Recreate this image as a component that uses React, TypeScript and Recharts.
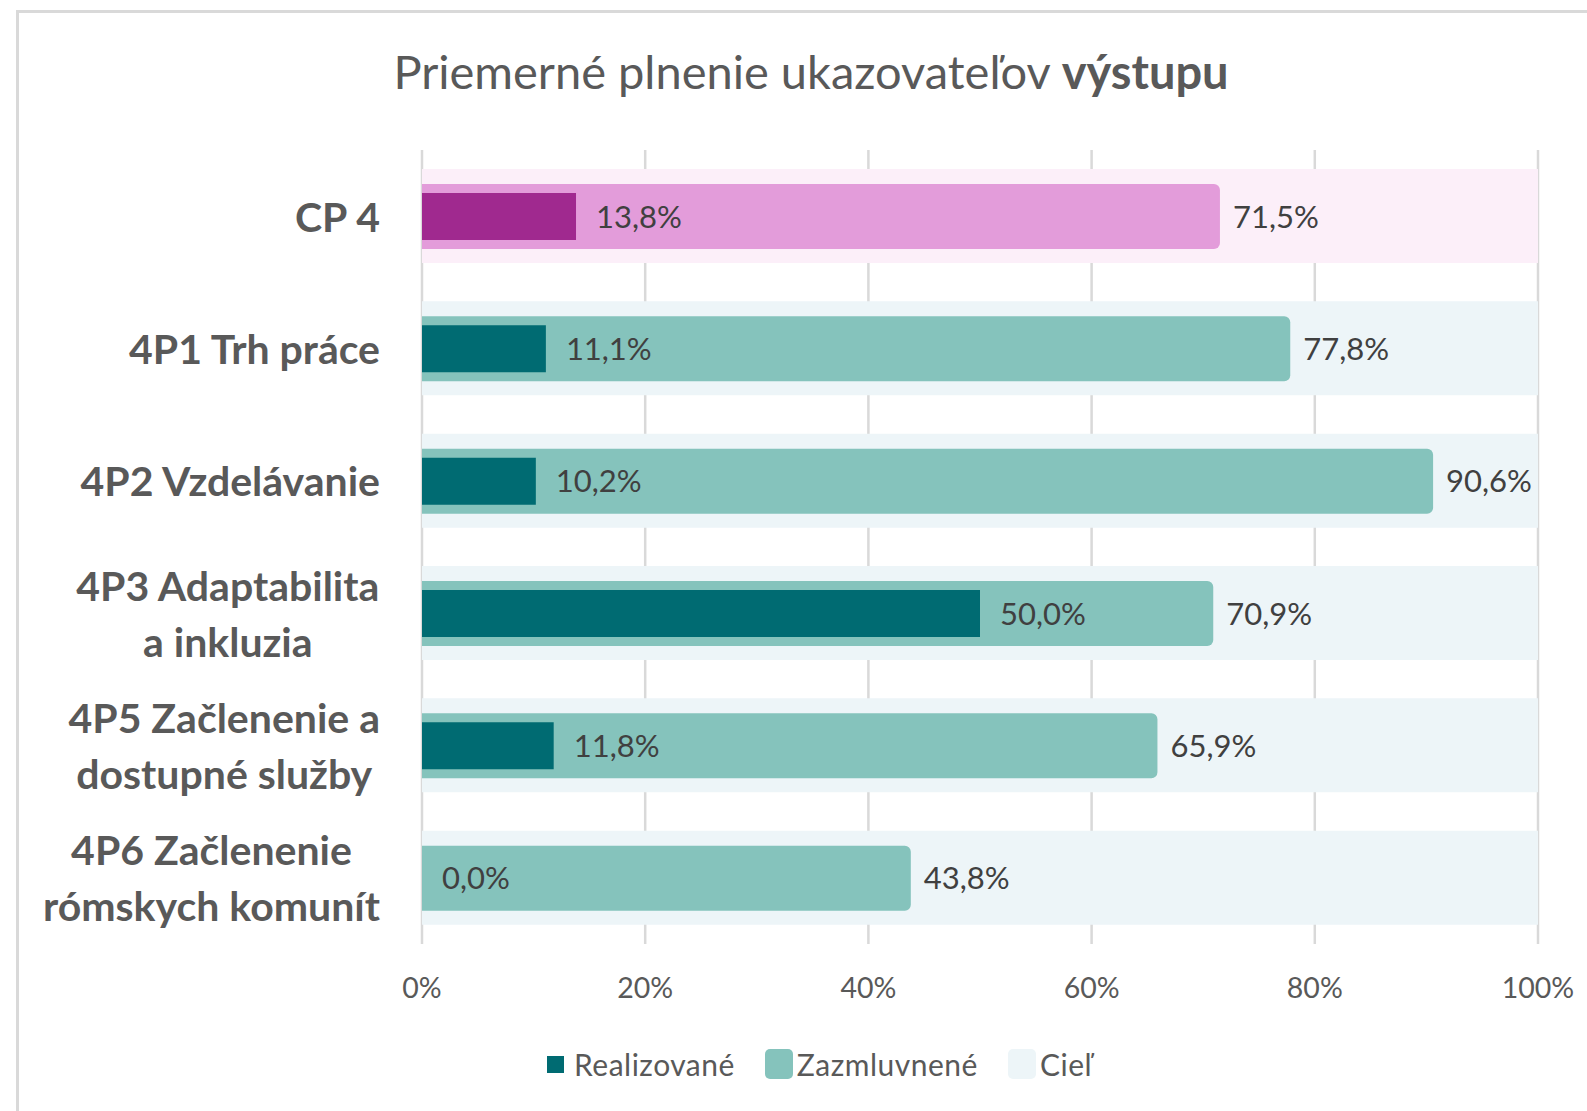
import { BarChart, Bar, XAxis, YAxis, CartesianGrid, Cell, LabelList } from 'recharts';

const categories = [
    'CP 4',
    '4P1 Trh práce',
    '4P2 Vzdelávanie',
    '4P3 Adaptabilita\na inkluzia',
    '4P5 Začlenenie a\ndostupné služby',
    '4P6 Začlenenie\nrómskych komunít',
];
const realizovane = [13.8, 11.1, 10.2, 50.0, 11.8, 0.0];
const zazmluvnene = [71.5, 77.8, 90.6, 70.9, 65.9, 43.8];
const ciel = [100, 100, 100, 100, 100, 100];
const xTicks = [0, 20, 40, 60, 80, 100];
const highlighted = 'CP 4';

const data = categories.map((name, i) => ({
    name,
    realizovane: realizovane[i],
    zazmluvnene: zazmluvnene[i],
    ciel: ciel[i],
}));

const FONT = 'Lato, "Noto Sans", sans-serif';
const GRAY = '#595959';
const LABEL = '#404040';

const teal = { dark: '#006B72', mid: '#85C3BC', light: '#EDF5F8' };
const pink = { dark: '#A0298F', mid: '#E39CDA', light: '#FCEFF9' };

const pick = (name: string) => (name === highlighted ? pink : teal);

const fmt = (v: any) => `${Number(v).toFixed(1).replace('.', ',')}%`;

let ctx: CanvasRenderingContext2D | null = null;
function textWidth(s: string, font: string) {
    if (!ctx && typeof document !== 'undefined') ctx = document.createElement('canvas').getContext('2d');
    if (!ctx) return s.length * 20;
    ctx.font = font;
    return ctx.measureText(s).width;
}

// y-axis labels: block right-aligned to the axis, lines centred inside the block
function CategoryTick(props: any) {
    const { x, y, payload } = props;
    const lines = String(payload.value).split('\n');
    const size = 41;
    const lh = 56;
    const font = `bold ${size}px Lato`;
    const maxW = Math.max(...lines.map((l) => textWidth(l, font)));
    const cx = x - maxW / 2;
    const y0 = y - ((lines.length - 1) * lh) / 2;
    return (
        <g>
            {lines.map((l, i) => (
                <text
                    key={i}
                    x={lines.length > 1 ? cx : x}
                    y={y0 + i * lh}
                    textAnchor={lines.length > 1 ? 'middle' : 'end'}
                    dominantBaseline="central"
                    fill={GRAY}
                    fontFamily={FONT}
                    fontWeight={700}
                    fontSize={size}
                >
                    {l}
                </text>
            ))}
        </g>
    );
}

function PercentTick(props: any) {
    const { x, y, payload } = props;
    return (
        <text x={x} y={y} dy={35} textAnchor="middle" dominantBaseline="central" fill={GRAY} fontFamily={FONT} fontSize={28.5}>
            {`${payload.value}%`}
        </text>
    );
}

function Legend() {
    const item = (marker: any, label: string, last = false) => (
        <div style={{ display: 'flex', alignItems: 'center', marginRight: last ? 0 : 30 }}>
            {marker}
            <span style={{ marginLeft: 4, letterSpacing: 0.5 }}>{label}</span>
        </div>
    );
    return (
        <div
            style={{
                position: 'absolute',
                left: 547,
                top: 1046,
                height: 36,
                display: 'flex',
                alignItems: 'center',
                fontFamily: FONT,
                fontSize: 30,
                color: GRAY,
            }}
        >
            {item(<div style={{ width: 17, height: 17, background: teal.dark, marginRight: 6 }} />, 'Realizované')}
            {item(<div style={{ width: 28, height: 30, borderRadius: 5, background: teal.mid }} />, 'Zazmluvnené')}
            {item(<div style={{ width: 28, height: 30, borderRadius: 5, background: teal.light }} />, 'Cieľ', true)}
        </div>
    );
}

export default function App() {
    return (
        <div style={{ position: 'absolute', left: 0, top: 0, width: 1587, height: 1111, overflow: 'hidden', background: '#fff' }}>
            <div
                style={{
                    position: 'absolute',
                    left: 16,
                    top: 10,
                    width: 1700,
                    height: 1300,
                    border: '3px solid #D9D9D9',
                }}
            />
            <div
                style={{
                    position: 'absolute',
                    left: 811,
                    top: 46,
                    transform: 'translateX(-50%)',
                    whiteSpace: 'nowrap',
                    lineHeight: '50px',
                    fontFamily: FONT,
                    fontSize: 47,
                    color: GRAY,
                }}
            >
                Priemerné plnenie ukazovateľov <b>výstupu</b>
            </div>
            <div style={{ position: 'absolute', left: 0, top: 0 }}>
                <BarChart
                    width={1587}
                    height={1111}
                    data={data}
                    layout="vertical"
                    margin={{ top: 150, right: 49, bottom: 107, left: 0 }}
                >
                    <CartesianGrid horizontal={false} stroke="#D9D9D9" strokeWidth={2.5} />
                    <XAxis
                        type="number"
                        domain={[0, 100]}
                        ticks={xTicks}
                        axisLine={false}
                        tickLine={false}
                        height={60}
                        tick={<PercentTick />}
                        interval={0}
                    />
                    <YAxis
                        yAxisId="cat"
                        type="category"
                        dataKey="name"
                        width={422}
                        axisLine={false}
                        tickLine={false}
                        tickSize={0}
                        tickMargin={42}
                        interval={0}
                        tick={<CategoryTick />}
                    />
                    <YAxis yAxisId="z" type="category" dataKey="name" hide />
                    <YAxis yAxisId="r" type="category" dataKey="name" hide />
                    <Bar yAxisId="cat" dataKey="ciel" barSize={94} isAnimationActive={false}>
                        {data.map((d) => (
                            <Cell key={d.name} fill={pick(d.name).light} />
                        ))}
                    </Bar>
                    <Bar yAxisId="z" dataKey="zazmluvnene" barSize={65} radius={[0, 6, 6, 0]} isAnimationActive={false}>
                        {data.map((d) => (
                            <Cell key={d.name} fill={pick(d.name).mid} />
                        ))}
                        <LabelList
                            dataKey="zazmluvnene"
                            position="right"
                            offset={13}
                            formatter={fmt}
                            fill={LABEL}
                            fontFamily={FONT}
                            fontSize={31}
                        />
                    </Bar>
                    {/* tiny minPointSize so the 0,0% bar still gets its label */}
                    <Bar yAxisId="r" dataKey="realizovane" barSize={47} minPointSize={0.01} isAnimationActive={false}>
                        {data.map((d) => (
                            <Cell key={d.name} fill={pick(d.name).dark} />
                        ))}
                        <LabelList
                            dataKey="realizovane"
                            position="right"
                            offset={20}
                            formatter={fmt}
                            fill={LABEL}
                            fontFamily={FONT}
                            fontSize={31}
                        />
                    </Bar>
                </BarChart>
            </div>
            <Legend />
        </div>
    );
}
